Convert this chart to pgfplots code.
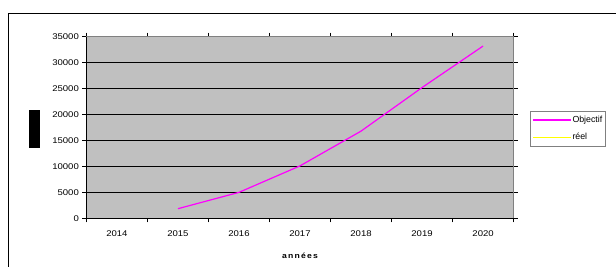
\documentclass[border=0pt]{standalone}
\usepackage{pgfplots}
\pgfplotsset{compat=1.18}
\usepackage{fontspec}
\setmainfont{Liberation Sans}
\newfontfamily\wide[FakeStretch=1.15]{Liberation Sans}
\definecolor{plotbg}{HTML}{C0C0C0}
\definecolor{bordergrey}{HTML}{808080}
\definecolor{objcol}{HTML}{FF00FF}
\definecolor{reelcol}{HTML}{FFFF00}
\begin{document}
\begin{tikzpicture}[x=1pt,y=1pt]
\path[use as bounding box] (0,0) rectangle (616,267);
\clip (0,0) rectangle (616,267);
\draw[black, line width=1pt] (8,253) rectangle (630,-10);
\begin{axis}[
  at={(86.4pt,48.7pt)}, anchor=south west,
  scale only axis, width=427.2pt, height=181.6pt,
  xmin=-0.5, xmax=6.5, ymin=0, ymax=35000,
  xtick={-0.5,0.5,...,6.5},
  x tick label as interval,
  xticklabels={2014,2015,2016,2017,2018,2019,2020},
  xticklabel style={yshift=-5pt},
  ytick={0,5000,...,35000},
  scaled y ticks=false,
  /pgf/number format/assume math mode=true,
  yticklabel={\pgfmathprintnumber[fixed,1000 sep={}]{\tick}},
  tick label style={font=\wide\fontsize{8.3}{9}\selectfont},
  tick align=outside, major tick length=4pt,
  tick style={black, line width=0.6pt},
  axis background/.style={fill=plotbg},
  axis line style={bordergrey, line width=0.8pt},
  ymajorgrids, grid style={black, line width=0.6pt},
  xlabel={\wide\fontsize{7.5}{9}\selectfont\bfseries a\,n\,n\,é\,e\,s},
  xlabel style={yshift=-9pt},
  ylabel={\rule{11pt}{38pt}},
  ylabel style={rotate=-90, at={(rel axis cs:0,0.5)}, anchor=center, xshift=-52pt, yshift=-2pt},
  legend style={at={(1.0384,0.5925)}, anchor=north west, draw=bordergrey, line width=0.6pt,
    font=\fontsize{8.8}{9}\selectfont, fill=white, inner xsep=2pt, inner ysep=5pt,
    row sep=9.5pt, nodes={inner xsep=1pt, inner ysep=0pt}},
  legend cell align=left,
  legend image code/.code={\draw[#1] (0pt,0pt) -- (38pt,0pt);},
  clip=false,
]
\addplot[color=objcol, draw=objcol, line width=1.2pt] coordinates {
(1,1850) (2,5000) (3,10100) (4,16800) (5,25200) (6,33200)
};
\addlegendentry{Objectif\hspace{12pt}}
\addplot[color=reelcol, draw=reelcol, line width=1.2pt] coordinates {(3,0)};
\addlegendentry{réel}
\draw[black, line width=0.8pt] (axis cs:-0.5,35000) -- (axis cs:-0.5,0) -- (axis cs:6.5,0);
\end{axis}
\end{tikzpicture}
\end{document}
